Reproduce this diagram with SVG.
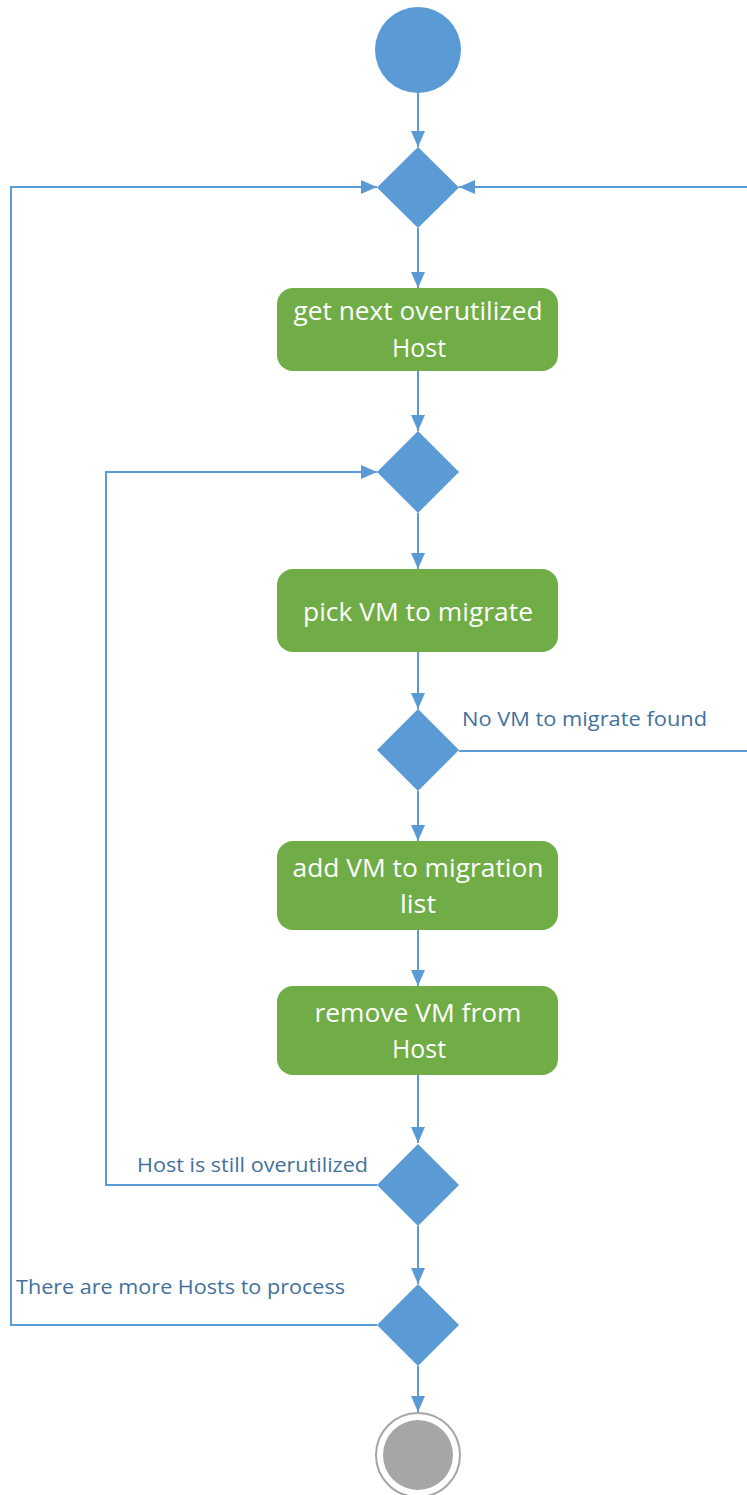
<svg xmlns="http://www.w3.org/2000/svg" width="747" height="1495" viewBox="0 0 747 1495">
  <style>
    .flow { fill: none; stroke: #5b9bd5; stroke-width: 2; }
    .decision { fill: #5b9bd5; }
    .action { fill: #70ad47; }
    .action-text { font-family: "Open Sans", "Noto Sans", sans-serif; font-size: 25px; fill: #ffffff; text-anchor: middle; }
    .guard { font-family: "Open Sans", "Noto Sans", sans-serif; font-size: 20px; fill: #41719c; }
  </style>
  <defs>
    <marker id="arrow" markerUnits="userSpaceOnUse" markerWidth="16" markerHeight="16" viewBox="0 0 16 16" refX="16" refY="8" orient="auto">
      <path d="M0,1 L16,8 L0,15 Z" fill="#5b9bd5"/>
    </marker>
  </defs>

  <rect width="747" height="1495" fill="#ffffff"/>

  <!-- connectors -->
  <g id="connectors">
    <path class="flow" d="M418,93 V147" marker-end="url(#arrow)"/>
    <path class="flow" d="M418,228 V288" marker-end="url(#arrow)"/>
    <path class="flow" d="M418,371 V431" marker-end="url(#arrow)"/>
    <path class="flow" d="M418,513 V569" marker-end="url(#arrow)"/>
    <path class="flow" d="M418,652 V709" marker-end="url(#arrow)"/>
    <path class="flow" d="M418,791 V841" marker-end="url(#arrow)"/>
    <path class="flow" d="M418,930 V986" marker-end="url(#arrow)"/>
    <path class="flow" d="M418,1075 V1143" marker-end="url(#arrow)"/>
    <path class="flow" d="M418,1226 V1284" marker-end="url(#arrow)"/>
    <path class="flow" d="M418,1366 V1412" marker-end="url(#arrow)"/>
    <!-- no VM found: back to the outer loop -->
    <path class="flow" d="M459,751 H753 V187 H459" marker-end="url(#arrow)"/>
    <!-- inner loop -->
    <path class="flow" d="M377,1185 H106 V472 H377" marker-end="url(#arrow)"/>
    <!-- outer loop -->
    <path class="flow" d="M377,1325 H11 V187 H377" marker-end="url(#arrow)"/>
  </g>

  <g id="start">
    <circle cx="418" cy="50" r="43" fill="#5b9bd5"/>
  </g>

  <g id="merge-hosts">
    <path class="decision" d="M418,147 L459,187.5 L418,228 L377,187.5 Z"/>
  </g>

  <g id="get-host">
    <rect class="action" x="277" y="288" width="281" height="83" rx="16"/>
    <text class="action-text" x="418" y="320" textLength="249" lengthAdjust="spacingAndGlyphs">get next overutilized</text>
    <text class="action-text" x="419" y="357" textLength="54" lengthAdjust="spacingAndGlyphs">Host</text>
  </g>

  <g id="merge-vms">
    <path class="decision" d="M418,431 L459,472 L418,513 L377,472 Z"/>
  </g>

  <g id="pick-vm">
    <rect class="action" x="277" y="569" width="281" height="83" rx="16"/>
    <text class="action-text" x="418" y="621" textLength="230" lengthAdjust="spacingAndGlyphs">pick VM to migrate</text>
  </g>

  <g id="vm-found">
    <path class="decision" d="M418,709 L459,750 L418,791 L377,750 Z"/>
    <text class="guard" x="462" y="726" textLength="245" lengthAdjust="spacingAndGlyphs">No VM to migrate found</text>
  </g>

  <g id="add-vm">
    <rect class="action" x="277" y="841" width="281" height="89" rx="16"/>
    <text class="action-text" x="418" y="877" textLength="251" lengthAdjust="spacingAndGlyphs">add VM to migration</text>
    <text class="action-text" x="418" y="913" textLength="36" lengthAdjust="spacingAndGlyphs">list</text>
  </g>

  <g id="remove-vm">
    <rect class="action" x="277" y="986" width="281" height="89" rx="16"/>
    <text class="action-text" x="418" y="1022" textLength="207" lengthAdjust="spacingAndGlyphs">remove VM from</text>
    <text class="action-text" x="419" y="1058" textLength="54" lengthAdjust="spacingAndGlyphs">Host</text>
  </g>

  <g id="still-overutilized">
    <path class="decision" d="M418,1144 L459,1185 L418,1226 L377,1185 Z"/>
    <text class="guard" x="137" y="1172" textLength="231" lengthAdjust="spacingAndGlyphs">Host is still overutilized</text>
  </g>

  <g id="more-hosts">
    <path class="decision" d="M418,1284 L459,1325 L418,1366 L377,1325 Z"/>
    <text class="guard" x="16" y="1294" textLength="329" lengthAdjust="spacingAndGlyphs">There are more Hosts to process</text>
  </g>

  <g id="end">
    <circle cx="418" cy="1455" r="42" fill="#ffffff" stroke="#a6a6a6" stroke-width="2"/>
    <circle cx="418" cy="1455" r="35" fill="#a6a6a6"/>
  </g>
</svg>
